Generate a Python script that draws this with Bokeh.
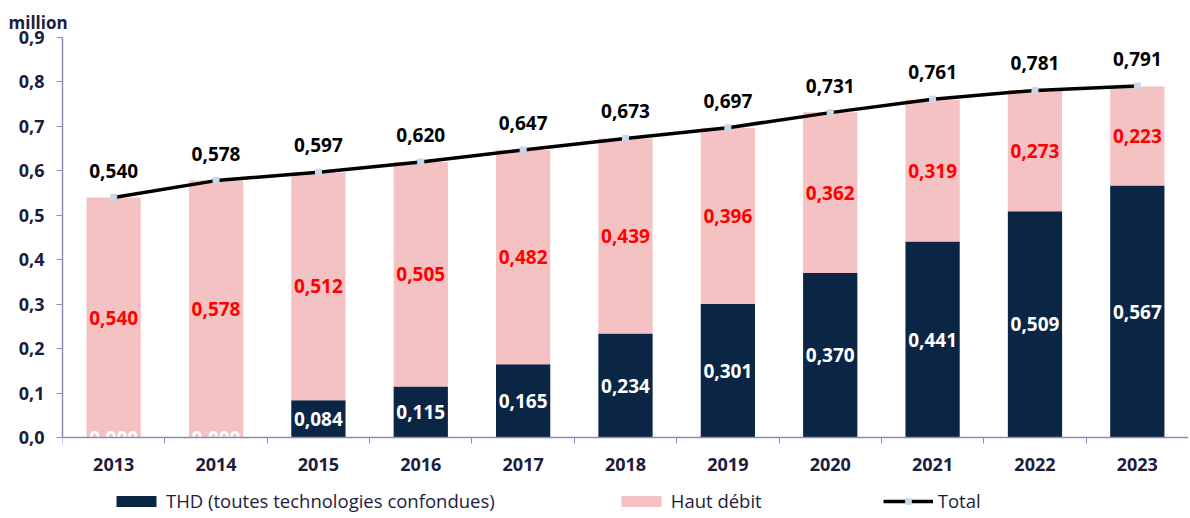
from bokeh.plotting import figure
from bokeh.models import (ColumnDataSource, Range1d, FixedTicker, Legend, LegendItem, Title)
from bokeh.core.properties import value
from bokeh.embed import file_html
from bokeh.resources import INLINE

years = ["2013", "2014", "2015", "2016", "2017", "2018", "2019", "2020", "2021", "2022", "2023"]
thd = [0.000, 0.000, 0.084, 0.115, 0.165, 0.234, 0.301, 0.370, 0.441, 0.509, 0.567]
haut_debit = [0.540, 0.578, 0.512, 0.505, 0.482, 0.439, 0.396, 0.362, 0.319, 0.273, 0.223]
total = [0.540, 0.578, 0.597, 0.620, 0.647, 0.673, 0.697, 0.731, 0.761, 0.781, 0.791]
y_ticks = [0.0, 0.1, 0.2, 0.3, 0.4, 0.5, 0.6, 0.7, 0.8, 0.9]

NAVY = "#0b2545"
PINK = "#f4c2c2"
AXIS = "#8c8cb8"
TXT = "#1c1c3c"
FONT = "Open Sans"

def fmt(v):
    return f"{v:.3f}".replace(".", ",")

xs = [i + 0.5 for i in range(len(years))]
src = ColumnDataSource(dict(
    x=xs, thd=thd, hd=haut_debit, total=total,
    thd_mid=[t / 2 for t in thd],
    hd_mid=[t + h / 2 for t, h in zip(thd, haut_debit)],
    thd_lbl=[fmt(v) for v in thd],
    hd_lbl=[fmt(v) for v in haut_debit],
    tot_lbl=[fmt(v) for v in total],
))

p = figure(width=1188, height=518, output_backend="svg", toolbar_location=None,
           x_range=Range1d(0, len(years)), y_range=Range1d(-0.18225, 0.9),
           min_border_left=62, min_border_right=0, min_border_top=37, min_border_bottom=0)
p.outline_line_color = None
p.xgrid.grid_line_color = None
p.ygrid.grid_line_color = None

t = Title(text="million", align="left", offset=-54, standoff=5, vertical_align="middle",
          text_font=FONT, text_font_size="17px", text_font_style="bold", text_color=TXT)
p.add_layout(t, "above")

stack = p.vbar_stack(["thd", "hd"], x="x", width=0.53, color=[NAVY, PINK],
                     line_color=None, source=src)
line = p.line("x", "total", source=src, line_color="black", line_width=3.5)
mk = p.scatter("x", "total", source=src, marker="square", size=6,
               fill_color="#c8d8ea", line_color="#c8d8ea")

p.text("x", "thd_mid", text="thd_lbl", source=src, text_align="center", text_baseline="middle",
       text_color="white", text_font=value(FONT), text_font_size="19px", text_font_style="bold")
p.text("x", "hd_mid", text="hd_lbl", source=src, text_align="center", text_baseline="middle",
       text_color="#ff0000", text_font=value(FONT), text_font_size="19px", text_font_style="bold")
p.text("x", "total", text="tot_lbl", source=src, text_align="center", text_baseline="middle",
       y_offset=-27, text_color="black", text_font=value(FONT), text_font_size="19px",
       text_font_style="bold")

# x axis, drawn at y = 0 inside the frame
xa = p.xaxis[0]
xa.fixed_location = 0
xa.ticker = FixedTicker(ticks=xs, minor_ticks=list(range(0, len(years) + 1)))
xa.major_label_overrides = {x: y for x, y in zip(xs, years)}
xa.major_tick_line_color = None
xa.minor_tick_line_color = AXIS
xa.minor_tick_out = 6
xa.minor_tick_in = 0
xa.axis_line_color = AXIS
xa.axis_line_width = 1.5
xa.major_label_standoff = 14
xa.major_label_text_font = FONT
xa.major_label_text_font_size = "18px"
xa.major_label_text_font_style = "bold"
xa.major_label_text_color = TXT

ya = p.yaxis[0]
ya.bounds = (0, 0.9)
ya.ticker = FixedTicker(ticks=y_ticks, minor_ticks=[])
ya.major_label_overrides = {v: f"{v:.1f}".replace(".", ",") for v in y_ticks}
ya.major_tick_line_color = AXIS
ya.major_tick_out = 6
ya.major_tick_in = 0
ya.minor_tick_line_color = None
ya.axis_line_color = AXIS
ya.axis_line_width = 1.5
ya.major_label_standoff = 12
ya.major_label_text_font = FONT
ya.major_label_text_font_size = "18px"
ya.major_label_text_font_style = "bold"
ya.major_label_text_color = TXT

legend = Legend(items=[
    LegendItem(label="THD (toutes technologies confondues)", renderers=[stack[0]]),
    LegendItem(label="Haut débit", renderers=[stack[1]]),
    LegendItem(label="Total", renderers=[line, mk]),
], orientation="horizontal", location=(49, 5), padding=0, margin=0, spacing=121,
    glyph_width=50, glyph_height=14, label_height=20, label_standoff=5,
    border_line_color=None, background_fill_alpha=0,
    label_text_font=FONT, label_text_font_size="18.5px", label_text_color=TXT)
p.add_layout(legend, "center")

open("out.html", "w").write(file_html(p, INLINE))
